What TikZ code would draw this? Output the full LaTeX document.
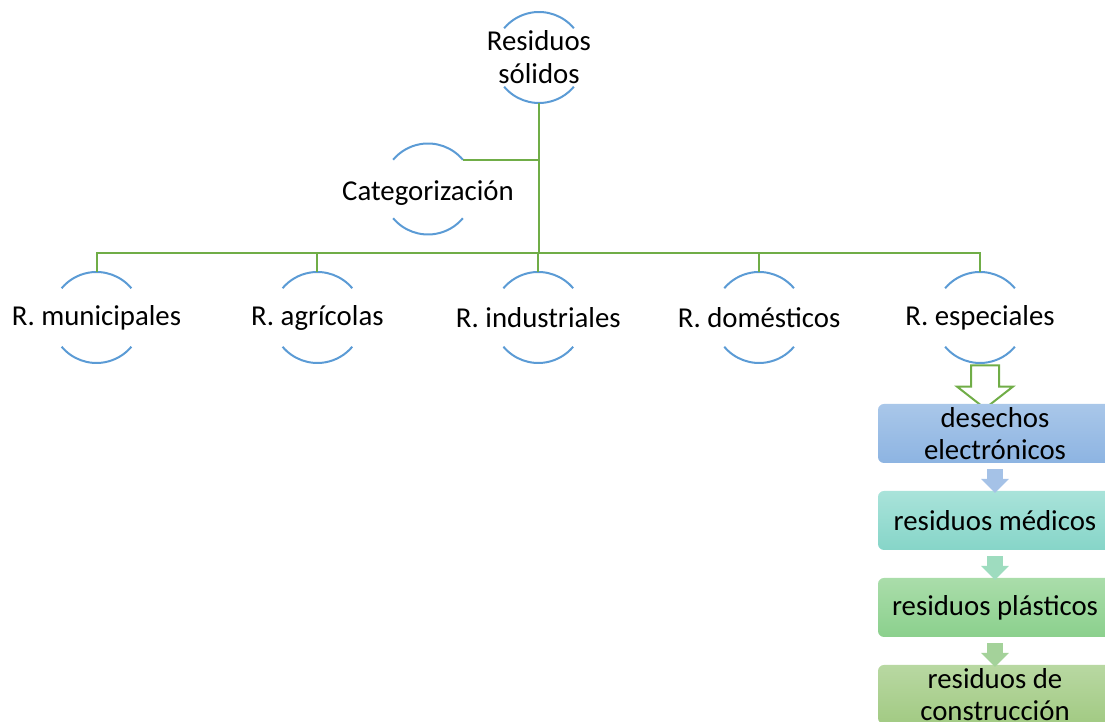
\documentclass[tikz,border=0pt]{standalone}
\usepackage{fontspec}
\setmainfont{Carlito}
\usetikzlibrary{shapes.arrows,calc}
\definecolor{azul}{HTML}{5B9BD5}
\definecolor{verde}{HTML}{70AD47}
\definecolor{unoA}{RGB}{169,199,233}
\definecolor{unoB}{RGB}{141,180,226}
\definecolor{dosA}{RGB}{169,227,218}
\definecolor{dosB}{RGB}{134,213,200}
\definecolor{tresA}{RGB}{170,221,170}
\definecolor{tresB}{RGB}{139,208,141}
\definecolor{cuatroA}{RGB}{184,216,162}
\definecolor{cuatroB}{RGB}{162,202,131}
\definecolor{pasoUno}{RGB}{165,194,231}
\definecolor{pasoDos}{RGB}{158,220,191}
\definecolor{pasoTres}{RGB}{164,210,154}
\begin{document}
\begin{tikzpicture}[x=0.5pt, y=0.5pt, font=\fontsize{14.4}{16.5}\selectfont,
    ring/.style={circle, minimum size=45.5pt, inner sep=0pt, outer sep=0pt},
    arco/.style={draw=azul, line width=1pt},
    rama/.style={draw=verde, line width=1pt},
    caja/.style={rounded corners=3pt, minimum width=117pt, minimum height=29.5pt,
      inner sep=0pt, align=center, font=\fontsize{14.4}{16}\selectfont},
    paso/.style={single arrow, shape border rotate=270, minimum height=11.5pt,
      single arrow head extend=3pt, inner sep=3.75pt}]
  \useasboundingbox (0,0) rectangle (1105,722);
  % circulos
  \node[ring, label={[align=center]center:Residuos\\sólidos}] (top) at (539,664.5) {};
  \node[ring, label={[yshift=-2pt]center:Categorización}] (cat) at (428,533) {};
  \node[ring, label={center:R. municipales}] (mun) at (96.5,404.5) {};
  \node[ring, label={center:R. agrícolas}] (agr) at (317.4,404.5) {};
  \node[ring, label={center:R. industriales}] (ind) at (538.3,404.5) {};
  \node[ring, label={center:R. domésticos}] (dom) at (759.1,404.5) {};
  \node[ring, label={center:R. especiales}] (esp) at (980,404.5) {};
  \foreach \n in {top,cat,mun,agr,ind,dom,esp} {
    \draw[arco] (\n.40) arc (40:140:22.75pt);
    \draw[arco] (\n.220) arc (220:320:22.75pt);
  }
  % ramas
  \coordinate (bus) at (539,469);
  \draw[rama] (top.south) -- (bus);
  \draw[rama] (cat.40) -- (cat.40 -| top.south);
  \foreach \n in {mun,agr,ind,dom,esp}
    \draw[rama] (bus) -| (\n.north);
  \node[single arrow, shape border rotate=270, draw=verde, line width=1pt,
    minimum height=21.5pt, single arrow head extend=7pt,
    single arrow tip angle=104, inner sep=6.5pt] (flecha) at (985,340.5) {};
  % lista
  \node[caja, top color=unoA, bottom color=unoB] (b1) at (995,288.5)
    {desechos\\electrónicos};
  \node[caja, top color=dosA, bottom color=dosB] (b2) at (995,201.5)
    {residuos médicos};
  \node[caja, top color=tresA, bottom color=tresB] (b3) at (995,114.5)
    {residuos plásticos};
  \node[caja, top color=cuatroA, bottom color=cuatroB] (b4) at (995,27.5)
    {residuos de\\construcción};
  \node[paso, fill=pasoUno] (f1) at ($(b1.south)!0.5!(b2.north)$) {};
  \node[paso, fill=pasoDos] (f2) at ($(b2.south)!0.5!(b3.north)$) {};
  \node[paso, fill=pasoTres] (f3) at ($(b3.south)!0.5!(b4.north)$) {};
\end{tikzpicture}
\end{document}
